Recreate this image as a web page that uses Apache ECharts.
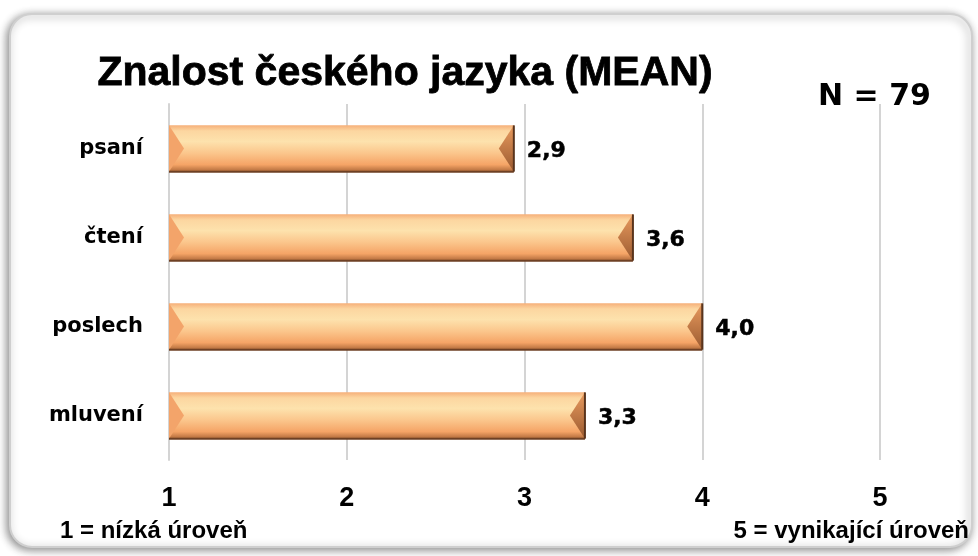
<!DOCTYPE html>
<html>
<head>
<meta charset="utf-8">
<script src="https://cdn.jsdelivr.net/npm/echarts@6/dist/echarts.min.js"></script>
<style>
  html, body { margin: 0; padding: 0; background: #fff; }
  #chart { width: 978px; height: 556px; }
</style>
</head>
<body>
<div id="chart"></div>
<script>
// data
var categories = ['psaní', 'čtení', 'poslech', 'mluvení']
var means = [2.94, 3.61, 4.0, 3.34]
var tickLabels = ['1', '2', '3', '4', '5']
var titleText = 'Znalost českého jazyka (MEAN)'
var sampleText = 'N = 79'
var lowNote = '1 = nízká úroveň'
var highNote = '5 = vynikající úroveň'

var chart = echarts.init(document.getElementById('chart'))

// beveled bar: face + left/right end bevels + dark bottom edge
function renderBar (params, api) {
    var cat = api.value(0)
    var val = api.value(1)
    var start = api.coord([1, cat])
    var end = api.coord([val, cat])
    var h = api.size([0, 1])[1] * 0.52
    var x0 = start[0]
    var x1 = end[0]
    var yc = start[1]
    var y0 = yc - h / 2
    var y1 = yc + h / 2
    var b = 15
    return {
        type: 'group',
        children: [{
            type: 'rect',
            shape: { x: x0, y: y0, width: x1 - x0, height: h },
            style: {
                fill: new echarts.graphic.LinearGradient(0, 0, 0, 1, [
                    { offset: 0, color: '#f6b07a' },
                    { offset: 0.12, color: '#fcd6a0' },
                    { offset: 0.35, color: '#fde2ad' },
                    { offset: 0.6, color: '#fbc68c' },
                    { offset: 0.85, color: '#f5a466' },
                    { offset: 1, color: '#b06a3a' }
                ])
            }
        }, {
            type: 'polygon',
            shape: { points: [[x0, y0], [x0 + b, yc], [x0, y1]] },
            style: { fill: '#f3a46a' }
        }, {
            type: 'polygon',
            shape: { points: [[x1, y0], [x1 - b, yc], [x1, y1]] },
            style: {
                fill: new echarts.graphic.LinearGradient(0, 0, 0, 1, [
                    { offset: 0, color: '#e89a5e' },
                    { offset: 1, color: '#9a5a30' }
                ])
            }
        }, {
            type: 'line',
            shape: { x1: x0, y1: y1, x2: x1, y2: y1 },
            style: { stroke: '#6e4024', lineWidth: 2 }
        }, {
            type: 'line',
            shape: { x1: x1, y1: y0, x2: x1, y2: y1 },
            style: { stroke: '#5a341c', lineWidth: 2 }
        }, {
            type: 'text',
            style: {
                x: x1 + 13,
                y: yc + 3,
                text: val.toFixed(1).replace('.', ','),
                font: 'bold 22px "DejaVu Sans"',
                fill: '#000',
                stroke: '#000',
                lineWidth: 0.5,
                verticalAlign: 'middle'
            }
        }]
    }
}

chart.setOption({
    backgroundColor: '#fff',
    animation: false,
    graphic: [{
        type: 'rect',
        z: -10,
        shape: { x: 10, y: 14, width: 962, height: 533, r: 22 },
        style: {
            fill: '#fff',
            stroke: '#cfcfcf',
            lineWidth: 2,
            shadowBlur: 8,
            shadowOffsetX: -2,
            shadowOffsetY: 2,
            shadowColor: 'rgba(0,0,0,0.45)'
        }
    }, {
        type: 'text',
        left: 97,
        top: 53,
        style: {
            text: titleText,
            font: 'bold 41px "Liberation Sans"',
            fill: '#000',
            stroke: '#000',
            lineWidth: 0.8
        }
    }, {
        type: 'text',
        left: 818,
        top: 82,
        style: { text: sampleText, font: 'bold 30px "DejaVu Sans"', fill: '#000' }
    }, {
        type: 'text',
        left: 60,
        top: 519,
        style: { text: lowNote, font: 'bold 24px "Liberation Sans"', fill: '#000' }
    }, {
        type: 'text',
        right: 9,
        top: 519,
        style: { text: highNote, font: 'bold 24px "Liberation Sans"', fill: '#000' }
    }],
    grid: {
        left: 169,
        right: 98,
        top: 104,
        bottom: 96
    },
    xAxis: {
        type: 'value',
        min: 1,
        max: 5,
        interval: 1,
        axisLine: { show: false },
        axisTick: { show: false },
        splitLine: { lineStyle: { color: '#d4d4d4', width: 2 } },
        axisLabel: {
            margin: 25,
            color: '#000',
            fontFamily: 'Liberation Sans',
            fontWeight: 'bold',
            fontSize: 27,
            formatter: function (v) { return tickLabels[v - 1] }
        }
    },
    yAxis: {
        type: 'category',
        inverse: true,
        data: categories,
        axisLine: { show: true, lineStyle: { color: '#d4d4d4', width: 2 } },
        axisTick: { show: false },
        axisLabel: {
            margin: 26,
            color: '#000',
            fontFamily: 'DejaVu Sans',
            fontWeight: 'bold',
            fontSize: 21
        }
    },
    series: [{
        type: 'custom',
        renderItem: renderBar,
        encode: { x: 1, y: 0 },
        data: categories.map(function (c, i) { return [i, means[i]] })
    }]
})
</script>
</body>
</html>
